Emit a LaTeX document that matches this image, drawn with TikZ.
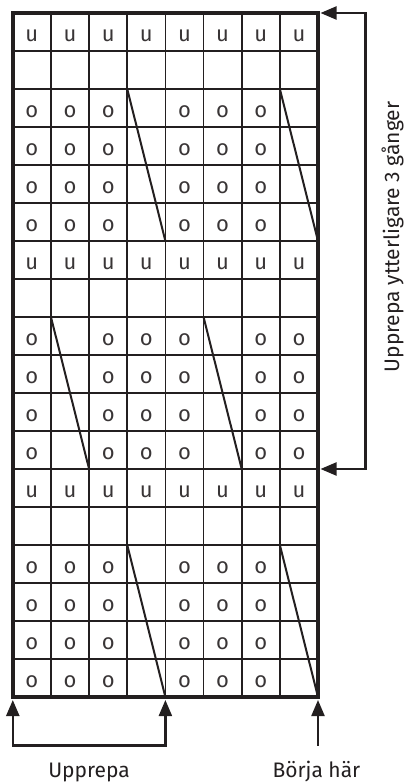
\documentclass[tikz,border=0pt]{standalone}
\usepackage{fontspec}
\setmainfont{Fira Sans}
\usetikzlibrary{arrows.meta, positioning, calc}
\definecolor{inkblack}{HTML}{231F20}
\tikzset{
  % Chart lines
  gridline/.style={line width=1.6pt, inkblack},
  borderline/.style={line width=3.6pt, inkblack, line join=miter},
  slipline/.style={line width=2pt, inkblack},
  % Stitch symbols
  cellmark/.style={font=\fontsize{22}{22}\selectfont, text=inkblack!90,
    inner sep=0pt, anchor=base, yshift=-9pt},
  % Arrows
  myarrow/.style={-{Triangle[length=16pt, width=13pt]}, line width=2.2pt, inkblack},
  dblarrow/.style={{Triangle[length=16pt, width=13pt]}-{Triangle[length=16pt, width=13pt]},
    line width=2.2pt, inkblack},
  % Labels
  chartlabel/.style={font=\fontsize{21}{21}\selectfont, text=inkblack, inner sep=0pt},
}
\begin{document}
\begin{tikzpicture}[x=1pt, y=-1pt]
  \useasboundingbox (0,0) rectangle (408,782);

  % Chart grid
  \begin{scope}[shift={(12.8,13)}, x=38.15pt, y=-38pt]
    \foreach \c in {1,...,7}
      \draw[gridline] (\c,0) -- (\c,18);
    \foreach \r in {1,...,17}
      \draw[gridline] (0,\r) -- (8,\r);

    % Stitch symbols
    \foreach \r in {1,7,13}
      \foreach \c in {1,...,8}
        \node[cellmark] (u-\r-\c) at (\c-0.5,\r-0.5) {u};
    \foreach \r in {3,4,5,6,15,16,17,18}
      \foreach \c in {1,2,3,5,6,7}
        \node[cellmark] (o-\r-\c) at (\c-0.5,\r-0.5) {o};
    \foreach \r in {9,10,11,12}
      \foreach \c in {1,3,4,5,7,8}
        \node[cellmark] (o-\r-\c) at (\c-0.5,\r-0.5) {o};

    % Slipped stitches
    \draw[slipline] (3,2) -- (4,6);
    \draw[slipline] (7,2) -- (8,6);
    \draw[slipline] (1,8) -- (2,12);
    \draw[slipline] (5,8) -- (6,12);
    \draw[slipline] (3,14) -- (4,18);
    \draw[slipline] (7,14) -- (8,18);

    \draw[borderline] (0,0) rectangle (8,18);
  \end{scope}

  % Repeat rows
  \coordinate (rows-top) at (320.5,13);
  \coordinate (rows-bot) at (320.5,469);
  \coordinate (rows-ne) at (365.5,13);
  \coordinate (rows-se) at (365.5,469);
  \draw[dblarrow] (rows-top) -- (rows-ne) -- (rows-se) -- (rows-bot);
  \node[chartlabel, rotate=90, anchor=base] (rows-label) at (399,237)
    {Upprepa ytterligare 3 gånger};

  % Repeat stitches
  \coordinate (sts-left) at (12.8,700);
  \coordinate (sts-right) at (165.4,700);
  \coordinate (sts-sw) at (12.8,745.5);
  \coordinate (sts-se) at (165.4,745.5);
  \draw[dblarrow] (sts-left) -- (sts-sw) -- (sts-se) -- (sts-right);
  \node[chartlabel, anchor=base] (sts-label) at (89,777) {Upprepa};

  % Start
  \coordinate (start-tip) at (318,700);
  \coordinate (start-tail) at (318,745.5);
  \draw[myarrow] (start-tail) -- (start-tip);
  \node[chartlabel, anchor=base] (start-label) at (316.5,777) {Börja här};
\end{tikzpicture}
\end{document}
